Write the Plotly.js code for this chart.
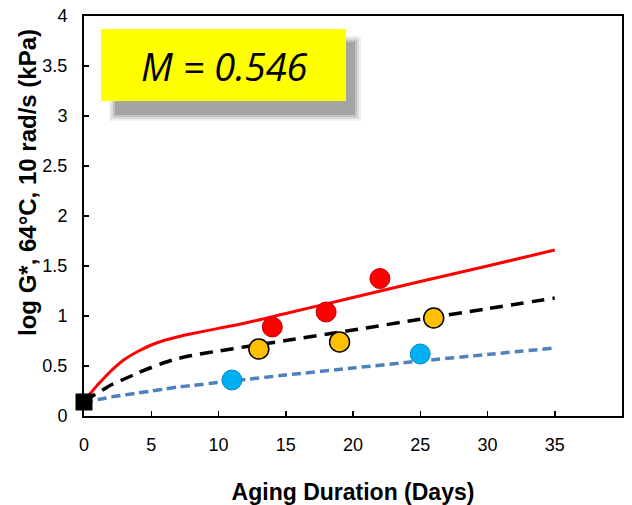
<!DOCTYPE html>
<html>
<head>
<meta charset="utf-8">
<script src="https://cdn.plot.ly/plotly-3.0.1.min.js"></script>
<style>
html,body{margin:0;padding:0;background:#fff;}
#chart{width:632px;height:505px;}
</style>
</head>
<body>
<div id="chart"></div>
<script>
// ---- data ----
const curveDays   = [0, 0.5, 1, 1.5, 2, 3, 4, 5, 6, 7, 8, 10, 12, 15, 20, 25, 30, 35];
const redCurve    = [0.15, 0.23, 0.31, 0.38, 0.45, 0.565, 0.645, 0.71, 0.757, 0.793, 0.823, 0.876, 0.93, 1.025, 1.185, 1.345, 1.50, 1.66];
const blackCurve  = [0.15, 0.19, 0.23, 0.27, 0.31, 0.37, 0.43, 0.485, 0.535, 0.575, 0.605, 0.65, 0.692, 0.755, 0.86, 0.967, 1.073, 1.18];
const blueCurve   = [0.14, 0.15, 0.165, 0.175, 0.19, 0.21, 0.23, 0.25, 0.27, 0.29, 0.305, 0.335, 0.365, 0.41, 0.48, 0.55, 0.615, 0.68];

const redDays     = [14, 18, 22];
const redValues   = [0.89, 1.04, 1.375];
const yellowDays  = [13, 19, 26];
const yellowValues= [0.67, 0.74, 0.98];
const blueDays    = [11, 25];
const blueValues  = [0.36, 0.62];
const startDays   = [0];
const startValues = [0.14];

const xTitle = "Aging Duration (Days)";
const yTitle = "log G*, 64°C, 10 rad/s (kPa)";
const boxText = "M = 0.546";

// ---- layout helpers (pixel -> paper) ----
const W = 632, H = 505;
const M = {l: 84, r: 10, t: 16, b: 89};
const pw = W - M.l - M.r, ph = H - M.t - M.b;
const px = v => (v - M.l) / pw;
const py = v => (H - M.b - v) / ph;

const tickFam = "Liberation Sans, Arial, sans-serif";
const bold = "Liberation Sans, Arial, sans-serif";

const traces = [
  {x: curveDays, y: blueCurve, mode: 'lines', line: {color: '#4F81BD', width: 3.5, dash: '9px,5px', shape: 'spline', smoothing: 0.8}, hoverinfo: 'skip'},
  {x: curveDays, y: blackCurve, mode: 'lines', line: {color: '#000000', width: 3.5, dash: '13px,8px', shape: 'spline', smoothing: 0.8}, hoverinfo: 'skip'},
  {x: curveDays, y: redCurve, mode: 'lines', line: {color: '#FF0000', width: 3, shape: 'spline', smoothing: 0.8}, hoverinfo: 'skip'},
  {x: blueDays, y: blueValues, mode: 'markers', cliponaxis: false,
   marker: {symbol: 'circle', size: 20, color: '#00B0F0', line: {color: '#0A86C8', width: 1}}},
  {x: yellowDays, y: yellowValues, mode: 'markers', cliponaxis: false,
   marker: {symbol: 'circle', size: 20, color: '#FFC000', line: {color: '#000000', width: 1.5}}},
  {x: redDays, y: redValues, mode: 'markers', cliponaxis: false,
   marker: {symbol: 'circle', size: 20, color: '#FF0000', line: {color: '#C00000', width: 1}}},
  {x: startDays, y: startValues, mode: 'markers', cliponaxis: false,
   marker: {symbol: 'square', size: 17, color: '#000000'}}
];

// shadow of the yellow label box (soft, layered)
const shadow = [];
const sh = [[109, 36, 361, 121, 0.12], [111, 38, 359, 119, 0.18], [113, 40, 357, 117, 0.28], [115, 42, 355, 115, 0.45]];
sh.forEach(s => shadow.push({
  type: 'rect', xref: 'paper', yref: 'paper',
  x0: px(s[0]), x1: px(s[2]), y0: py(s[3]), y1: py(s[1]),
  fillcolor: '#808080', opacity: s[4], line: {width: 0}, layer: 'above'
}));
shadow.push({
  type: 'rect', xref: 'paper', yref: 'paper',
  x0: px(101), x1: px(346), y0: py(101), y1: py(29),
  fillcolor: '#FFFF00', line: {width: 0}, layer: 'above'
});

const layout = {
  width: W, height: H,
  margin: M,
  paper_bgcolor: '#ffffff', plot_bgcolor: '#ffffff',
  showlegend: false,
  xaxis: {
    range: [0, 40], dtick: 5, tick0: 0,
    showgrid: false, zeroline: false,
    showline: true, linecolor: '#000', linewidth: 2, mirror: true,
    ticks: 'inside', ticklen: 5, tickwidth: 1.5, tickcolor: '#000',
    ticklabelstandoff: 11,
    tickfont: {family: tickFam, size: 18, color: '#000'},
    title: {text: '<b>' + xTitle + '</b>', font: {family: bold, size: 23, color: '#000'}, standoff: 32},
    automargin: false, fixedrange: true
  },
  yaxis: {
    range: [0, 4], dtick: 0.5, tick0: 0,
    showgrid: false, zeroline: false,
    showline: true, linecolor: '#000', linewidth: 2, mirror: true,
    ticks: 'inside', ticklen: 5, tickwidth: 1.5, tickcolor: '#000',
    ticklabelstandoff: 11,
    tickfont: {family: tickFam, size: 18, color: '#000'},
    automargin: false, fixedrange: true
  },
  shapes: shadow,
  annotations: [
    {
      text: boxText, xref: 'paper', yref: 'paper',
      x: px(224), y: py(66), xanchor: 'center', yanchor: 'middle', showarrow: false,
      font: {family: 'Open Sans, Noto Sans, sans-serif', size: 38, style: 'italic', color: '#000'}
    },
    {
      text: '<b>' + yTitle + '</b>', xref: 'paper', yref: 'paper',
      x: px(27), y: py(183), xanchor: 'center', yanchor: 'middle', showarrow: false,
      textangle: -90,
      font: {family: bold, size: 24, color: '#000'}
    }
  ]
};

Plotly.newPlot('chart', traces, layout, {displayModeBar: false, staticPlot: true});
</script>
</body>
</html>
